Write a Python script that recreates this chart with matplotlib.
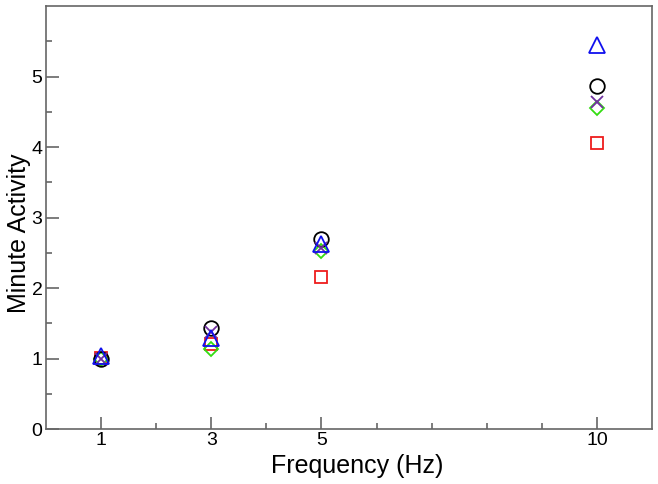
import matplotlib
matplotlib.use("Agg")
import matplotlib.pyplot as plt
from matplotlib.ticker import FixedLocator

plt.rcParams['font.family'] = ['Liberation Sans', 'DejaVu Sans']

freq = [1, 3, 5, 10]
square_red = [1.01, 1.20, 2.15, 4.06]
diamond_green = [0.99, 1.13, 2.53, 4.55]
circle_black = [1.00, 1.43, 2.69, 4.86]
x_purple = [1.00, 1.38, 2.57, 4.64]
triangle_blue = [1.03, 1.29, 2.62, 5.45]

x_major = [1, 3, 5, 10]
x_minor = [2, 4, 6, 7, 8, 9]
y_major = [0, 1, 2, 3, 4, 5]
y_minor = [0.5, 1.5, 2.5, 3.5, 4.5, 5.5]

fig = plt.figure(figsize=(6.58, 4.84), dpi=100)
ax = fig.add_axes([0.0699, 0.1136, 0.9211, 0.874])

lw = 1.3
ax.plot(freq, square_red, linestyle='none', marker='s', markersize=9.2,
        markerfacecolor='none', markeredgecolor='#ee1c1c', markeredgewidth=lw)
ax.plot(freq, diamond_green, linestyle='none', marker='D', markersize=7.6,
        markerfacecolor='none', markeredgecolor='#33dd11', markeredgewidth=lw)
ax.plot(freq, circle_black, linestyle='none', marker='o', markersize=10.5,
        markerfacecolor='none', markeredgecolor='black', markeredgewidth=lw)
ax.plot(freq, x_purple, linestyle='none', marker='x', markersize=9,
        markeredgecolor='#7030a0', markeredgewidth=lw)
ax.plot(freq, triangle_blue, linestyle='none', marker='^', markersize=11.5,
        markerfacecolor='none', markeredgecolor='#1010ee', markeredgewidth=lw)

ax.set_xlim(0, 11)
ax.set_ylim(0, 6)
ax.xaxis.set_major_locator(FixedLocator(x_major))
ax.xaxis.set_minor_locator(FixedLocator(x_minor))
ax.yaxis.set_major_locator(FixedLocator(y_major))
ax.yaxis.set_minor_locator(FixedLocator(y_minor))
ax.set_xticklabels([str(v) for v in x_major])
ax.set_yticklabels([str(v) for v in y_major])

spine_color = '#666666'
for s in ax.spines.values():
    s.set_color(spine_color)
    s.set_linewidth(1.2)

ax.tick_params(which='major', direction='in', length=9, width=1.2, color=spine_color,
               labelsize=14, top=False, right=False)
ax.tick_params(which='minor', direction='in', length=4.5, width=1.2, color=spine_color,
               top=False, right=False)
ax.tick_params(axis='x', which='major', pad=2.5)
ax.tick_params(axis='y', which='major', pad=2.5)

ax.set_xlabel('Frequency (Hz)', fontsize=18)
ax.set_ylabel('Minute Activity', fontsize=18)
ax.xaxis.set_label_coords(0.513, -0.06)
ax.yaxis.set_label_coords(-0.024, 0.463)

fig.savefig('out.png', dpi=100)
